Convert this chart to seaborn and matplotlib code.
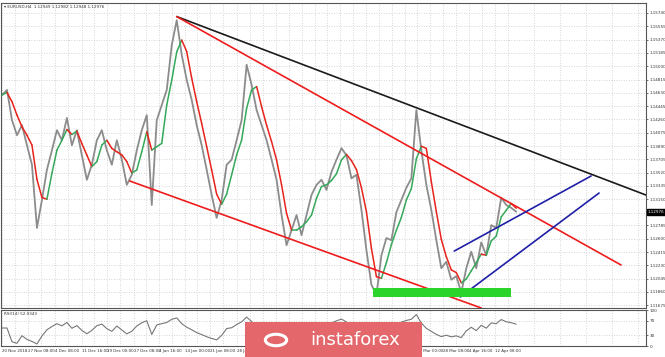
import numpy as np
import pandas as pd
import matplotlib
matplotlib.use("Agg")
import matplotlib.pyplot as plt
import seaborn as sns
from matplotlib.patches import Rectangle, Circle

# ---- data (approx. daily closes) ----
close = [1.1460, 1.1467, 1.1425, 1.1404, 1.1418, 1.1390, 1.1363, 1.1275, 1.1314, 1.1356,
         1.1383, 1.1411, 1.1397, 1.1428, 1.1390, 1.1411, 1.1376, 1.1342, 1.1363, 1.1397,
         1.1411, 1.1383, 1.1363, 1.1397, 1.1370, 1.1335, 1.1349, 1.1383, 1.1411, 1.1432,
         1.1307, 1.1425, 1.1446, 1.1467, 1.1529, 1.1564, 1.1516, 1.1481, 1.1453, 1.1418,
         1.1390, 1.1356, 1.1321, 1.1289, 1.1314, 1.1363, 1.1370, 1.1397, 1.1425, 1.1502,
         1.1474, 1.1439, 1.1418, 1.1397, 1.1370, 1.1342, 1.1293, 1.1251, 1.1272, 1.1293,
         1.1265, 1.1293, 1.1321, 1.1335, 1.1342, 1.1328, 1.1353, 1.1370, 1.1386, 1.1376,
         1.1344, 1.1349, 1.1300, 1.1244, 1.1196, 1.1182, 1.1237, 1.1261, 1.1258, 1.1297,
         1.1314, 1.1331, 1.1344, 1.1439, 1.1383, 1.1335, 1.1300, 1.1258, 1.1219, 1.1228,
         1.1203, 1.1208, 1.1185, 1.1219, 1.1242, 1.1219, 1.1255, 1.1237, 1.1279, 1.1275,
         1.1317, 1.1307, 1.1303, 1.12976]

x_labels = ["20 Nov 2018", "27 Nov 08:00", "4 Dec 08:00", "11 Dec 16:00", "19 Dec 00:00",
            "27 Dec 08:00", "4 Jan 16:00", "14 Jan 00:00", "21 Jan 08:00", "28 Jan 16:00",
            "5 Feb 00:00", "12 Feb 08:00", "19 Feb 16:00", "27 Feb 00:00", "6 Mar 08:00",
            "13 Mar 16:00", "21 Mar 00:00", "28 Mar 08:00", "4 Apr 16:00", "12 Apr 08:00"]
y_ticks = [1.15740, 1.15555, 1.15370, 1.15185, 1.15000, 1.14815, 1.14630, 1.14445, 1.14260,
           1.14075, 1.13890, 1.13705, 1.13520, 1.13335, 1.13150, 1.12965, 1.12785, 1.12600,
           1.12415, 1.12230, 1.12045, 1.11860, 1.11675]
rsi_ticks = [100, 70, 30, 0]
last_price = 1.12976
header = "\u25be EURUSD,H4  1.12949 1.12982 1.12948 1.12976"
rsi_label = "RSI(14) 52.0343"

# trend lines (anchor points: bar index, price)
black_line = [(35.0, 1.1569), (129.0, 1.13208)]
red_upper = [(35.0, 1.1569), (124.0, 1.12235)]
red_lower = [(25.6, 1.13403), (96.0, 1.11637)]
blue_lower = [(91.8, 1.11790), (119.6, 1.13236)]
blue_upper = [(90.6, 1.12429), (118.0, 1.13473)]
support_zone = [(74.4, 102.0), (1.11790, 1.11915)]

# ---- derived ----
idx = np.arange(len(close))
s = pd.Series(close)
ma = s.rolling(3, min_periods=1).mean()
delta = s.diff().fillna(0)
up = delta.clip(lower=0).ewm(alpha=1/5, adjust=False).mean()
dn = (-delta.clip(upper=0)).ewm(alpha=1/5, adjust=False).mean()
rsi = 100 - 100 / (1 + up / dn.replace(0, np.nan))
rsi = rsi.fillna(50)

sns.set_style("white")
plt.rcParams['font.family'] = ['DejaVu Sans']

W, H = 665, 357
fig = plt.figure(figsize=(W / 100, H / 100), dpi=100)
ax = fig.add_axes([1 / W, 1 - 308 / H, 645 / W, 305 / H])
ax2 = fig.add_axes([1 / W, 1 - 346 / H, 645 / W, 36 / H], sharex=ax)

x_min, x_max = -0.2, 129.0
ax.set_xlim(x_min, x_max)
ax.set_ylim(1.11637, 1.15879)

df = pd.DataFrame({"i": idx, "close": close, "ma": ma})
sns.lineplot(data=df, x="i", y="close", ax=ax, color="#8c8c8c", lw=1.3, zorder=2)
for k in range(1, len(idx)):
    col = "#35a85a" if ma[k] >= ma[k - 1] else "#e8231b"
    ax.plot(idx[k - 1:k + 1], ma[k - 1:k + 1], color=col, lw=1.1, zorder=3)

for (p0, p1), col in [(black_line, "#1a1a1a"), (red_upper, "#ee1c1c"), (red_lower, "#ee1c1c"),
                      (blue_lower, "#1f1fa8"), (blue_upper, "#1f1fa8")]:
    ax.plot([p0[0], p1[0]], [p0[1], p1[1]], color=col, lw=1.2, zorder=4, clip_on=True)

(zx0, zx1), (zy0, zy1) = support_zone
ax.add_patch(Rectangle((zx0, zy0), zx1 - zx0, zy1 - zy0, color="#2bd42b", zorder=5, lw=0))

# ticks / grid
xt = [0, 26, 53, 80, 105, 132, 157, 183, 208, 235, 261, 287, 313, 339, 365, 391, 416, 442, 468, 494]
xt = [p / 5 for p in xt]
minor = [(xt[k] + xt[k + 1]) / 2 for k in range(len(xt) - 1)] + [xt[-1] + 2.6, xt[-1] + 7.8,
                                                                     xt[-1] + 13, xt[-1] + 18.2, xt[-1] + 23.4, xt[-1] + 28.6]
for a in (ax, ax2):
    a.set_xticks(xt)
    a.set_xticks(minor, minor=True)
    a.grid(True, which="both", axis="x", color="#c8c8c8", ls=(0, (1, 2)), lw=0.6)
    a.yaxis.tick_right()
    for sp in a.spines.values():
        sp.set_color("#555555")
        sp.set_linewidth(0.8)
ax.set_yticks(y_ticks)
ax.set_yticklabels([f"{v:.5f}" for v in y_ticks])
ax.grid(True, axis="y", color="#c8c8c8", ls=(0, (1, 2)), lw=0.6)
ax.tick_params(axis="y", labelsize=3.0, length=1.5, width=0.5, pad=1.0, colors="#333333")
ax.tick_params(axis="x", bottom=False, labelbottom=False)
ax.set_xlabel("")
ax.set_ylabel("")

ax2.set_ylim(0, 100)
ax2.set_yticks(rsi_ticks)
ax2.set_yticklabels([str(v) for v in rsi_ticks])
ax2.grid(True, axis="y", color="#c8c8c8", ls=(0, (1, 2)), lw=0.6)
ax2.tick_params(axis="y", labelsize=3.0, length=1.5, width=0.5, pad=1.0, colors="#333333")
ax2.set_xticklabels(x_labels, ha="left")
ax2.tick_params(axis="x", labelsize=2.9, length=1.5, width=0.5, pad=1.0, colors="#333333")
sns.lineplot(x=idx, y=rsi.values, ax=ax2, color="#777777", lw=0.8)
ax2.set_xlabel("")
ax2.set_ylabel("")
ax2.text(0.004, 0.95, rsi_label, transform=ax2.transAxes, fontsize=3.0, va="top", color="#333333")

# current price tag
ax.annotate(f"{last_price:.5f}", xy=(1.0, last_price), xycoords=("axes fraction", "data"),
            xytext=(1.5, 0), textcoords="offset points", fontsize=3.0, color="white", va="center",
            ha="left", bbox=dict(boxstyle="square,pad=0.2", fc="black", ec="black"), annotation_clip=False,
            zorder=20)

ax.text(0.004, 0.995, header, transform=ax.transAxes, fontsize=3.0, va="top", color="#333333")

# watermark logo
fig.patches.append(Rectangle((245 / W, 0), 177 / W, 35 / H, transform=fig.transFigure,
                             fc="#e4686b", ec="none", zorder=10))
fig.patches.append(Circle((276 / W, 17 / H), 0.016, transform=fig.transFigure,
                          fc="none", ec="white", lw=2.2, zorder=11))
fig.text(355 / W, 17 / H, "instaforex", color="white", fontsize=13, ha="center", va="center",
         zorder=12, family="DejaVu Sans")

fig.savefig("out.png", dpi=100)
